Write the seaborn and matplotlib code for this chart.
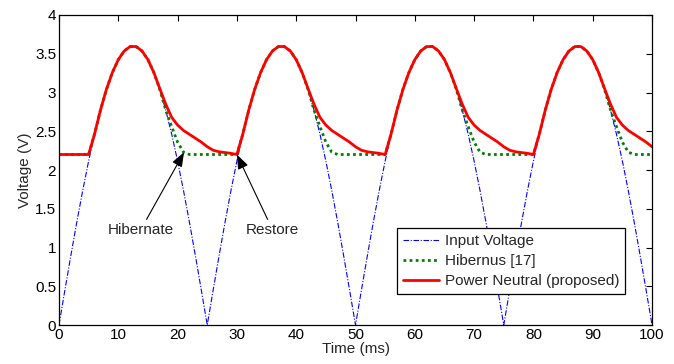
import matplotlib
matplotlib.use("Agg")
import matplotlib.pyplot as plt
import seaborn as sns

time_ms = [0, 1, 2, 3, 4, 5, 6, 7, 8, 9, 10, 11, 12, 13, 14, 15, 16, 17, 18, 19, 20,
           21, 22, 23, 24, 25, 26, 27, 28, 29, 30, 31, 32, 33, 34, 35, 36, 37, 38, 39, 40,
           41, 42, 43, 44, 45, 46, 47, 48, 49, 50, 51, 52, 53, 54, 55, 56, 57, 58, 59, 60,
           61, 62, 63, 64, 65, 66, 67, 68, 69, 70, 71, 72, 73, 74, 75, 76, 77, 78, 79, 80,
           81, 82, 83, 84, 85, 86, 87, 88, 89, 90, 91, 92, 93, 94, 95, 96, 97, 98, 99, 100]

input_voltage = [
    0, 0.451, 0.895, 1.325, 1.734, 2.116, 2.464, 2.774, 3.040, 3.257, 3.424, 3.536, 3.593,
    3.593, 3.536, 3.424, 3.257, 3.040, 2.774, 2.464, 2.116, 1.734, 1.325, 0.895, 0.451,
    0, 0.451, 0.895, 1.325, 1.734, 2.116, 2.464, 2.774, 3.040, 3.257, 3.424, 3.536, 3.593,
    3.593, 3.536, 3.424, 3.257, 3.040, 2.774, 2.464, 2.116, 1.734, 1.325, 0.895, 0.451,
    0, 0.451, 0.895, 1.325, 1.734, 2.116, 2.464, 2.774, 3.040, 3.257, 3.424, 3.536, 3.593,
    3.593, 3.536, 3.424, 3.257, 3.040, 2.774, 2.464, 2.116, 1.734, 1.325, 0.895, 0.451,
    0, 0.451, 0.895, 1.325, 1.734, 2.116, 2.464, 2.774, 3.040, 3.257, 3.424, 3.536, 3.593,
    3.593, 3.536, 3.424, 3.257, 3.040, 2.774, 2.464, 2.116, 1.734, 1.325, 0.895, 0.451,
    0]

hibernus = [
    2.2, 2.2, 2.2, 2.2, 2.2, 2.2,
    2.464, 2.774, 3.040, 3.257, 3.424, 3.536, 3.593, 3.593, 3.536, 3.424, 3.257, 3.040, 2.774,
    2.56, 2.36, 2.23, 2.2, 2.2, 2.2, 2.2, 2.2, 2.2, 2.2, 2.2, 2.2,
    2.464, 2.774, 3.040, 3.257, 3.424, 3.536, 3.593, 3.593, 3.536, 3.424, 3.257, 3.040, 2.774,
    2.56, 2.36, 2.23, 2.2, 2.2, 2.2, 2.2, 2.2, 2.2, 2.2, 2.2, 2.2,
    2.464, 2.774, 3.040, 3.257, 3.424, 3.536, 3.593, 3.593, 3.536, 3.424, 3.257, 3.040, 2.774,
    2.56, 2.36, 2.23, 2.2, 2.2, 2.2, 2.2, 2.2, 2.2, 2.2, 2.2, 2.2,
    2.464, 2.774, 3.040, 3.257, 3.424, 3.536, 3.593, 3.593, 3.536, 3.424, 3.257, 3.040, 2.774,
    2.56, 2.36, 2.23, 2.2, 2.2, 2.2, 2.2]

power_neutral = [
    2.2, 2.2, 2.2, 2.2, 2.2, 2.2,
    2.464, 2.774, 3.040, 3.257, 3.424, 3.536, 3.593, 3.593, 3.536, 3.424, 3.257,
    3.05, 2.85, 2.68, 2.58, 2.51, 2.46, 2.41, 2.36, 2.30, 2.255, 2.235, 2.225, 2.215, 2.2,
    2.464, 2.774, 3.040, 3.257, 3.424, 3.536, 3.593, 3.593, 3.536, 3.424, 3.257,
    3.05, 2.85, 2.68, 2.58, 2.51, 2.46, 2.41, 2.36, 2.30, 2.255, 2.235, 2.225, 2.215, 2.2,
    2.464, 2.774, 3.040, 3.257, 3.424, 3.536, 3.593, 3.593, 3.536, 3.424, 3.257,
    3.05, 2.85, 2.68, 2.58, 2.51, 2.46, 2.41, 2.36, 2.30, 2.255, 2.235, 2.225, 2.215, 2.2,
    2.464, 2.774, 3.040, 3.257, 3.424, 3.536, 3.593, 3.593, 3.536, 3.424, 3.257,
    3.05, 2.85, 2.68, 2.58, 2.51, 2.46, 2.41, 2.36, 2.30]

x_ticks = [0, 10, 20, 30, 40, 50, 60, 70, 80, 90, 100]
y_ticks = [0, 0.5, 1, 1.5, 2, 2.5, 3, 3.5, 4]
y_tick_labels = ["0", "0.5", "1", "1.5", "2", "2.5", "3", "3.5", "4"]

labels = ["Input Voltage", "Hibernus [17]", "Power Neutral (proposed)"]

sns.set_style("white")
plt.rcParams['font.family'] = ['Liberation Sans', 'DejaVu Sans']

FS = 11

fig = plt.figure(figsize=(6.74, 3.64), dpi=100)
ax = fig.add_axes([0.0875, 0.1071, 0.8799, 0.8517])

sns.lineplot(x=time_ms, y=input_voltage, ax=ax, color="#0000ff", lw=0.8,
             label=labels[0], linestyle=(0, (5, 1.5, 1, 1.5)))
sns.lineplot(x=time_ms, y=hibernus, ax=ax, color="#008000", lw=2.0,
             label=labels[1], linestyle=(0, (1, 1.2)))
sns.lineplot(x=time_ms, y=power_neutral, ax=ax, color="#ff0000", lw=2.0,
             label=labels[2])

ax.set_xlim(0, 100)
ax.set_ylim(0, 4)
ax.set_xticks(x_ticks)
ax.set_yticks(y_ticks)
ax.set_yticklabels(y_tick_labels)
ax.tick_params(direction="in", top=True, right=True, length=4, width=0.8,
               labelsize=FS, colors="black", pad=2)
for s in ax.spines.values():
    s.set_color("black")
    s.set_linewidth(0.9)

ax.set_xlabel("Time (ms)", fontsize=FS, labelpad=0)
ax.set_ylabel("Voltage (V)", fontsize=FS, labelpad=2)

arrowprops = dict(arrowstyle="-|>,head_length=0.8,head_width=0.3", color="black",
                  lw=0.8, shrinkA=0, shrinkB=0)
ax.annotate("Hibernate", xy=(21.1, 2.23), xytext=(13.8, 1.23), fontsize=FS,
            ha="center", va="center", arrowprops=arrowprops)
ax.annotate("Restore", xy=(30.0, 2.2), xytext=(36.0, 1.23), fontsize=FS,
            ha="center", va="center", arrowprops=arrowprops)

leg = ax.legend(loc="upper right", bbox_to_anchor=(0.955, 0.313), fontsize=FS,
                fancybox=False, edgecolor="black", framealpha=1, borderaxespad=0,
                handlelength=2.4, labelspacing=0.4, borderpad=0.4, handletextpad=0.35)
leg.get_frame().set_linewidth(0.9)

fig.savefig("out.png", dpi=100)
